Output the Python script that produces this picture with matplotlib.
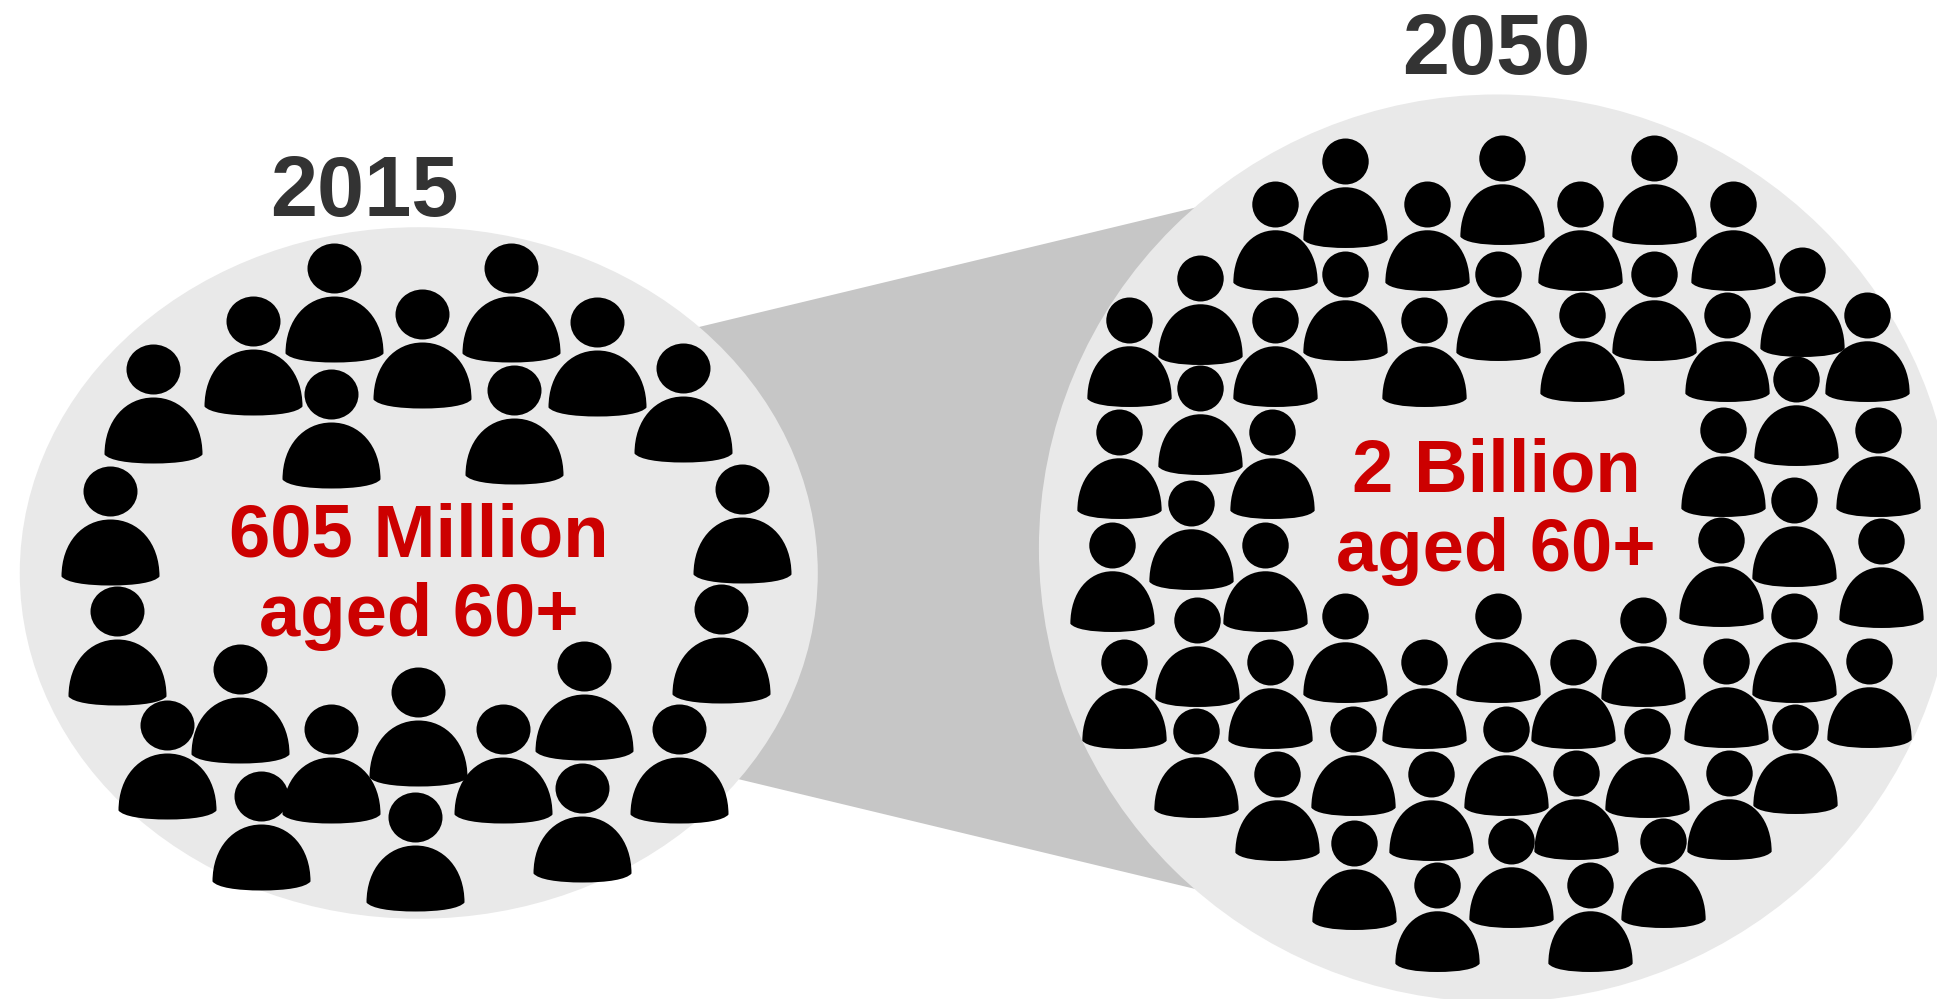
#!/usr/bin/env python3
"""Older population in 2015 and 2050, drawn as two crowds of person icons."""

import matplotlib

matplotlib.use("Agg")
import matplotlib.pyplot as plt  # noqa: E402
from matplotlib.patches import Ellipse, Polygon  # noqa: E402
from matplotlib.path import Path  # noqa: E402
from matplotlib.transforms import Affine2D  # noqa: E402

DPI = 100
WIDTH, HEIGHT = 1568, 809  # axes units

YEARS = ["2015", "2050"]
TOTALS = ["605 Million", "2 Billion"]
AGE_LABEL = "aged 60+"

# Head centres of each person icon
HEADS_2015_X = [270, 414, 205, 342, 483, 268, 416, 124, 553, 89, 601, 95, 584,
                194, 473, 338, 268, 135, 407, 550, 211, 336, 471]
HEADS_2015_Y = [217, 217, 260, 254, 261, 319, 316, 299, 298, 398, 396, 495, 493,
                542, 539, 560, 590, 587, 590, 590, 645, 662, 638]

HEADS_2050_X = [1089, 1216, 1339,
                1032, 1155, 1279, 1403,
                971, 1089, 1213, 1339, 1459,
                914, 1032, 1153, 1281, 1398, 1511,
                971, 1454,
                906, 1030, 1395, 1520,
                964, 1452,
                900, 1024, 1393, 1523,
                969, 1089, 1213, 1330, 1452,
                910, 1028, 1153, 1273, 1397, 1513,
                968, 1095, 1219, 1333, 1453,
                1034, 1158, 1276, 1400,
                1096, 1223, 1346,
                1163, 1287]
HEADS_2050_Y = [130, 128, 128,
                165, 165, 165, 165,
                225, 222, 222, 222, 219,
                259, 259, 259, 255, 255, 255,
                314, 307,
                350, 350, 348, 348,
                407, 405,
                441, 441, 437, 438,
                502, 499, 499, 502, 499,
                536, 536, 536, 536, 535, 535,
                592, 590, 590, 592, 589,
                627, 627, 626, 626,
                683, 681, 681,
                717, 717]


def person_marker(sx: float, sy: float) -> tuple[Path, float]:
    """Head + dome body around the head centre, with its largest extent in px."""
    head = Path.unit_circle().transformed(Affine2D().scale(27 * sx, 25 * sy))
    verts = [
        (-49, -85), (-49, -51), (-28, -28), (0, -28),
        (28, -28), (49, -51), (49, -85),
        (44, -91), (25, -94), (0, -94),
        (-25, -94), (-44, -91), (-49, -85),
        (-49, -85),
    ]
    codes = [Path.MOVETO] + [Path.CURVE4] * 12 + [Path.CLOSEPOLY]
    body = Path([(x * sx, y * sy) for x, y in verts], codes)
    path = Path.make_compound_path(head, body)
    return path, float(abs(path.vertices).max())


def draw_people(ax, xs, ys, sx: float, sy: float) -> None:
    marker, extent = person_marker(sx, sy)
    size = (2 * extent * 72 / DPI) ** 2
    ax.scatter(xs, ys, s=size, marker=marker, c="black", linewidths=0, zorder=3)


def main() -> None:
    fig = plt.figure(figsize=(19.37, 9.99), dpi=DPI)
    ax = fig.add_axes([0, 0, 1, 1])
    ax.set_xlim(0, WIDTH)
    ax.set_ylim(HEIGHT, 0)
    ax.axis("off")

    ax.add_patch(Polygon([(565, 265), (968, 168), (968, 720), (598, 631)],
                         closed=True, fc="#C6C6C6", ec="none", zorder=1))
    ax.add_patch(Ellipse((339, 464), 646, 560, fc="#E9E9E9", ec="none", zorder=2))
    ax.add_patch(Ellipse((1212, 444), 742, 735, fc="#E9E9E9", ec="none", zorder=2))

    draw_people(ax, HEADS_2015_X, HEADS_2015_Y, 1.0, 1.0)
    draw_people(ax, HEADS_2050_X, HEADS_2050_Y, 0.86, 0.92)

    font = dict(family="Liberation Sans", fontweight="bold", ha="center",
                va="baseline", zorder=4)
    ax.text(295, 175, YEARS[0], color="#333333", fontsize=61, **font)
    ax.text(1211, 60, YEARS[1], color="#333333", fontsize=61, **font)
    ax.text(339, 451, TOTALS[0], color="#CC0000", fontsize=53.5, **font)
    ax.text(339, 515, AGE_LABEL, color="#CC0000", fontsize=53.5, **font)
    ax.text(1211, 398, TOTALS[1], color="#CC0000", fontsize=53.5, **font)
    ax.text(1211, 462, AGE_LABEL, color="#CC0000", fontsize=53.5, **font)

    fig.savefig("out.png", dpi=DPI, facecolor="white")
    plt.close(fig)


if __name__ == "__main__":
    main()
